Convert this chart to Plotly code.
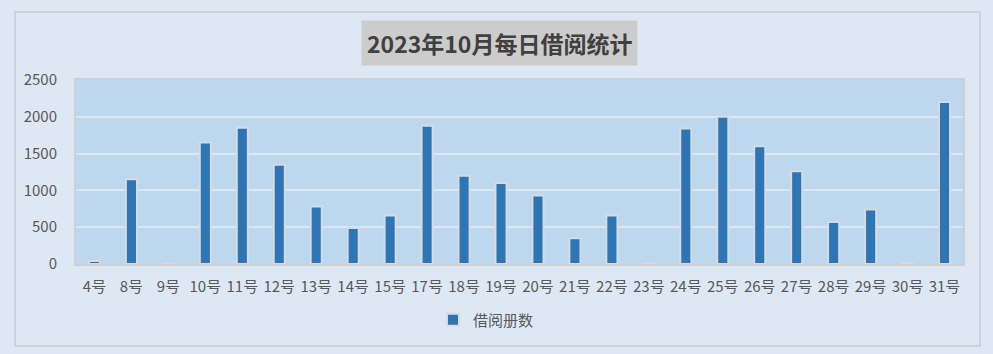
import plotly.graph_objects as go

days = ["4号", "8号", "9号", "10号", "11号", "12号", "13号", "14号", "15号", "17号", "18号", "19号",
        "20号", "21号", "22号", "23号", "24号", "25号", "26号", "27号", "28号", "29号", "30号", "31号"]
counts = [40, 1150, 5, 1650, 1850, 1350, 780, 490, 660, 1880, 1200, 1100,
          930, 350, 660, 5, 1840, 2000, 1600, 1260, 570, 740, 5, 2200]
series_name = "借阅册数"
title_text = "2023年10月每日借阅统计"
y_ticks = [0, 500, 1000, 1500, 2000, 2500]

font_family = "Microsoft YaHei, Noto Sans CJK SC, sans-serif"

fig = go.Figure()
fig.add_trace(go.Bar(
    x=days, y=counts, name=series_name,
    marker=dict(color="#2e75b6", line=dict(color="#d6dbe0", width=2)),
    width=0.3,
    showlegend=True,
))

L, R, T, B = 76, 30, 80, 90
W, H = 993, 354
pw, ph = W - L - R, H - T - B

def px(x):
    return (x - L) / pw

def py(y):
    return (H - B - y) / ph

fig.update_layout(
    width=W, height=H,
    margin=dict(l=L, r=R, t=T, b=B),
    paper_bgcolor="#dde8f4",
    plot_bgcolor="#bdd7ee",
    font=dict(family=font_family, size=15, color="#595959"),
    showlegend=True,
    legend=dict(orientation="h", x=px(486), xanchor="center", y=py(320), yanchor="middle",
                bgcolor="rgba(0,0,0,0)", font=dict(size=15, color="#595959"),
                itemwidth=30),
    xaxis=dict(type="category", showgrid=False, ticks="", showline=True,
               linecolor="#d0d0d0", linewidth=2, mirror=True, ticklabelstandoff=8,
               tickfont=dict(size=15, color="#595959")),
    yaxis=dict(range=[0, 2500], tickvals=y_ticks, showgrid=True, gridcolor="#dce7f2",
               gridwidth=1.5, zeroline=False, showline=True, linecolor="#d0d0d0",
               linewidth=2, mirror=True, ticks="", ticklabelstandoff=14,
               tickfont=dict(size=15, color="#595959")),
    shapes=[dict(type="rect", xref="paper", yref="paper",
                 x0=px(15), x1=px(980), y0=py(346), y1=py(12),
                 line=dict(color="#c8ccd1", width=1.5), fillcolor="rgba(0,0,0,0)", layer="below")],
    annotations=[dict(text="<b>" + title_text + "</b>", xref="paper", yref="paper",
                      x=px(499), y=py(43), xanchor="center", yanchor="middle", showarrow=False,
                      bgcolor="#cccccc", borderpad=5,
                      font=dict(size=23, color="#404040", family=font_family))],
)

fig.write_html("out.html")
